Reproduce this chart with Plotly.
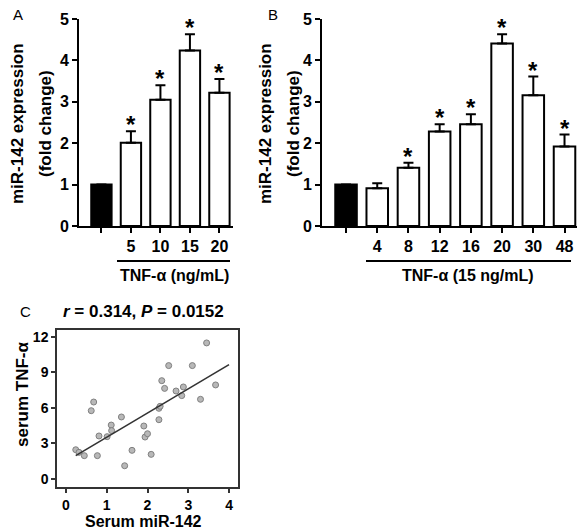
import plotly.graph_objects as go

W, H = 586, 531

# ---- Panel A data ----
A_labels = ["", "5", "10", "15", "20"]
A_values = [1.0, 2.01, 3.05, 4.24, 3.22]
A_err = [0.0, 0.28, 0.35, 0.39, 0.33]
A_sig = [False, True, True, True, True]

# ---- Panel B data ----
B_labels = ["", "4", "8", "12", "16", "20", "30", "48"]
B_values = [1.0, 0.91, 1.41, 2.28, 2.46, 4.41, 3.16, 1.92]
B_err = [0.0, 0.12, 0.12, 0.18, 0.24, 0.22, 0.45, 0.29]
B_sig = [False, False, True, True, True, True, True, True]

# ---- Panel C data ----
C_x = [0.24, 0.32, 0.45, 0.62, 0.68, 0.77, 0.81, 1.01, 1.11, 1.12,
       1.36, 1.44, 1.62, 1.91, 1.94, 2.00, 2.09, 2.28, 2.28, 2.31,
       2.35, 2.42, 2.52, 2.70, 2.84, 2.88, 3.10, 3.30, 3.45, 3.67]
C_y = [2.47, 2.25, 1.97, 5.76, 6.49, 1.97, 3.63, 3.57, 4.55, 4.08,
       5.23, 1.12, 2.42, 4.47, 3.54, 3.82, 2.08, 5.00, 5.96, 6.13,
       8.29, 7.64, 9.56, 7.42, 7.03, 7.76, 9.56, 6.72, 11.47, 7.93]
C_fit_x = [0.24, 4.0]
C_fit_slope = 2.04
C_fit_intercept = 1.48


def px(x):
    return x / W


def py(y):
    return 1 - y / H


FONT = "Arial, Liberation Sans, Helvetica, sans-serif"
fig = go.Figure()


def bars(values, err, xaxis, yaxis):
    n = len(values)
    colors = ["black"] + ["white"] * (n - 1)
    fig.add_trace(go.Bar(
        x=list(range(n)), y=values, width=0.69,
        marker=dict(color=colors, line=dict(color="black", width=2)),
        error_y=dict(type="data", symmetric=False, array=err,
                     arrayminus=[0] * n, color="black", thickness=2, width=5),
        xaxis=xaxis, yaxis=yaxis, showlegend=False, hoverinfo="skip"))


bars(A_values, A_err, "x", "y")
bars(B_values, B_err, "x2", "y2")

fig.add_trace(go.Scatter(
    x=C_x, y=C_y, mode="markers",
    marker=dict(size=6, color="#b8b8b8", line=dict(color="#808080", width=1)),
    xaxis="x3", yaxis="y3", showlegend=False, hoverinfo="skip"))
fig.add_trace(go.Scatter(
    x=C_fit_x, y=[C_fit_intercept + C_fit_slope * v for v in C_fit_x],
    mode="lines", line=dict(color="#333333", width=1.6),
    xaxis="x3", yaxis="y3", showlegend=False, hoverinfo="skip"))

tickfont = dict(family=FONT, size=16, color="black", weight="bold")
bar_y_common = dict(range=[0, 5], tickvals=[0, 1, 2, 3, 4, 5], showline=True,
                    linecolor="black", linewidth=2, ticks="outside", ticklen=5,
                    tickwidth=2, tickcolor="black", showgrid=False, zeroline=False,
                    tickfont=tickfont, fixedrange=True)
bar_x_common = dict(showline=True, linecolor="black", linewidth=2, ticks="outside",
                    ticklen=5, tickwidth=2, tickcolor="black", showgrid=False,
                    zeroline=False, tickfont=tickfont, fixedrange=True)

annotations = []
shapes = []

c_tickfont = dict(family=FONT, size=14, color="black", weight="bold")

fig.update_layout(
    width=W, height=H, margin=dict(l=0, r=0, t=0, b=0, autoexpand=False),
    paper_bgcolor="white", plot_bgcolor="white",
    xaxis=dict(domain=[px(79), px(233)], range=[-0.76, 4.46],
               tickvals=list(range(len(A_labels))), ticktext=A_labels,
               anchor="y", **bar_x_common),
    yaxis=dict(domain=[py(226), py(19)], anchor="x", **bar_y_common),
    xaxis2=dict(domain=[px(322), px(577)], range=[-0.77, 7.4],
                tickvals=list(range(len(B_labels))), ticktext=B_labels,
                anchor="y2", **bar_x_common),
    yaxis2=dict(domain=[py(226), py(19)], anchor="x2", **bar_y_common),
    xaxis3=dict(domain=[px(57), px(238)], range=[-0.22, 4.22],
                tickvals=[0, 1, 2, 3, 4], showline=True, mirror=True,
                linecolor="#333333", linewidth=1.5, ticks="outside", ticklen=4,
                tickwidth=1.5, tickcolor="#333333", showgrid=False, zeroline=False,
                tickfont=c_tickfont, anchor="y3", fixedrange=True),
    yaxis3=dict(domain=[py(487), py(330)], range=[-0.67, 12.56],
                tickvals=[0, 3, 6, 9, 12], showline=True, mirror=True,
                linecolor="#333333", linewidth=1.5, ticks="outside", ticklen=4,
                tickwidth=1.5, tickcolor="#333333", showgrid=False, zeroline=False,
                tickfont=c_tickfont, anchor="x3", fixedrange=True),
)

# asterisks
for xa, vals, errs, sig in (("x", A_values, A_err, A_sig), ("x2", B_values, B_err, B_sig)):
    ya = "y" if xa == "x" else "y2"
    for i, (v, e, s) in enumerate(zip(vals, errs, sig)):
        if s:
            annotations.append(dict(x=i, y=v + e, xref=xa, yref=ya, text="*",
                                    showarrow=False, yanchor="bottom", yshift=-9,
                                    font=dict(family=FONT, size=24, color="black",
                                              weight="bold")))


def label(x, y, text, size=16, bold=True, angle=0):
    annotations.append(dict(x=px(x), y=py(y), xref="paper", yref="paper",
                            text=text, showarrow=False, textangle=angle,
                            xanchor="center", yanchor="middle",
                            font=dict(family=FONT, size=size, color="black",
                                      weight="bold" if bold else "normal")))


# panel letters
label(18, 15, "A", size=15, bold=False)
label(273, 15, "B", size=15, bold=False)
label(25, 311, "C", size=15, bold=False)

# y titles bar charts
label(17, 124, "miR-142 expression", size=17, angle=-90)
label(45, 124, "(fold change)", size=17, angle=-90)
label(265, 124, "miR-142 expression", size=17, angle=-90)
label(293, 124, "(fold change)", size=17, angle=-90)

# treatment underlines
shapes.append(dict(type="line", xref="paper", yref="paper", x0=px(117), x1=px(230),
                   y0=py(261), y1=py(261), line=dict(color="black", width=2)))
shapes.append(dict(type="line", xref="paper", yref="paper", x0=px(366), x1=px(571),
                   y0=py(261), y1=py(261), line=dict(color="black", width=2)))
label(174, 275, "TNF-α (ng/mL)", size=16)
label(468, 275, "TNF-α (15 ng/mL)", size=16)

# panel C texts
label(143, 311, "<i>r</i> = 0.314, <i>P</i> = 0.0152", size=17)
label(22, 395, "serum TNF-α", size=17, angle=-90)
label(143, 521, "Serum miR-142", size=16)

fig.update_layout(annotations=annotations, shapes=shapes)
fig.write_html("out.html", config={"displayModeBar": False},
               post_script="document.body.style.margin='0';document.body.style.overflow='hidden';")
